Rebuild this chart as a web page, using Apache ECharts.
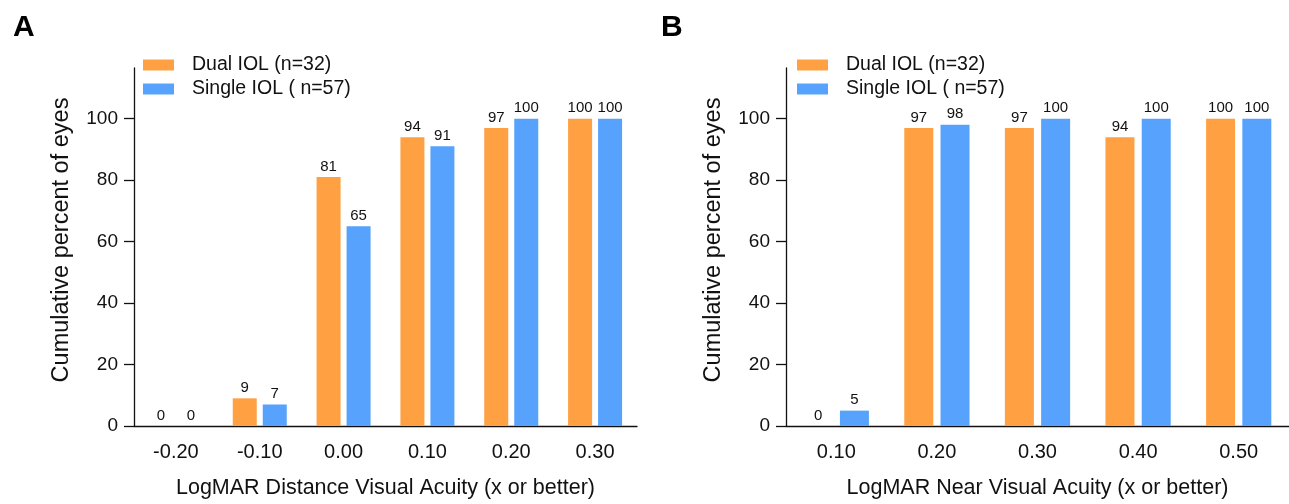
<!DOCTYPE html>
<html>
<head>
<meta charset="utf-8">
<script src="https://cdn.jsdelivr.net/npm/echarts@6/dist/echarts.min.js"></script>
<style>
  html, body { margin: 0; padding: 0; background: #fff; }
  #chart { width: 1289px; height: 504px; }
</style>
</head>
<body>
<div id="chart"></div>
<script>
  // panel A: distance acuity
  const distCategories = ['-0.20', '-0.10', '0.00', '0.10', '0.20', '0.30'];
  const distDual = [0, 9, 81, 94, 97, 100];
  const distSingle = [0, 7, 65, 91, 100, 100];
  // panel B: near acuity
  const nearCategories = ['0.10', '0.20', '0.30', '0.40', '0.50'];
  const nearDual = [0, 97, 97, 94, 100];
  const nearSingle = [5, 98, 100, 100, 100];
  const yTicks = [0, 20, 40, 60, 80, 100];

  const dualName = 'Dual IOL (n=32)';
  const singleName = 'Single IOL ( n=57)';
  const orange = '#FFA142';
  const blue = '#56A2FD';
  const font = 'Liberation Sans, Arial, sans-serif';

  const chart = echarts.init(document.getElementById('chart'));

  function xAxis(idx, data, name) {
    return {
      type: 'category',
      gridIndex: idx,
      data: data,
      name: name,
      nameLocation: 'middle',
      nameGap: 51,
      nameTextStyle: { fontSize: 21.5, color: '#111', fontFamily: font },
      axisLine: { lineStyle: { color: '#111', width: 1.3 } },
      axisTick: { alignWithLabel: true, length: 10, lineStyle: { color: '#111', width: 1.3 } },
      axisLabel: { fontSize: 20, color: '#111', fontFamily: font, margin: 16 },
    };
  }

  function yAxis(idx) {
    return {
      type: 'value',
      gridIndex: idx,
      min: 0,
      max: 116.5,
      name: 'Cumulative percent of eyes',
      nameLocation: 'middle',
      nameGap: 60,
      nameTextStyle: { fontSize: 23.5, color: '#111', fontFamily: font, padding: [0, 0, 0, 14] },
      splitLine: { show: false },
      axisLine: { show: true, lineStyle: { color: '#111', width: 1.3 } },
      axisTick: { show: true, length: 10, customValues: yTicks, lineStyle: { color: '#111', width: 1.3 } },
      axisLabel: { fontSize: 19, color: '#111', fontFamily: font, margin: 16, customValues: yTicks },
    };
  }

  function bar(name, idx, data, color, width) {
    return {
      name: name,
      type: 'bar',
      xAxisIndex: idx,
      yAxisIndex: idx,
      data: data,
      barWidth: width,
      barGap: '25%',
      itemStyle: { color: color },
      label: { show: true, position: 'top', distance: 3, fontSize: 15, color: '#111', fontFamily: font },
    };
  }

  function legend(left) {
    return {
      left: left,
      top: 50,
      orient: 'vertical',
      itemWidth: 31,
      itemHeight: 11,
      itemGap: 4,
      icon: 'rect',
      selectedMode: false,
      textStyle: { fontSize: 19.5, lineHeight: 20, color: '#111', fontFamily: font, padding: [0, 0, 0, 13] },
      data: [dualName, singleName],
    };
  }

  chart.setOption({
    animation: false,
    textStyle: { fontFamily: font },
    title: [
      { text: 'A', left: 8, top: 8, textStyle: { fontSize: 30, fontWeight: 'bold', color: '#000', fontFamily: font } },
      { text: 'B', left: 656, top: 8, textStyle: { fontSize: 30, fontWeight: 'bold', color: '#000', fontFamily: font } },
    ],
    legend: [legend(138), legend(792)],
    grid: [
      { left: 134, top: 68, width: 503, height: 360, containLabel: false },
      { left: 786, top: 68, width: 503, height: 363, containLabel: false },
    ],
    xAxis: [
      xAxis(0, distCategories, 'LogMAR Distance Visual Acuity (x or better)'),
      xAxis(1, nearCategories, 'LogMAR Near Visual Acuity (x or better)'),
    ],
    yAxis: [yAxis(0), yAxis(1)],
    series: [
      bar(dualName, 0, distDual, orange, 24),
      bar(singleName, 0, distSingle, blue, 24),
      bar(dualName, 1, nearDual, orange, 29),
      bar(singleName, 1, nearSingle, blue, 29),
    ],
  });
</script>
</body>
</html>
